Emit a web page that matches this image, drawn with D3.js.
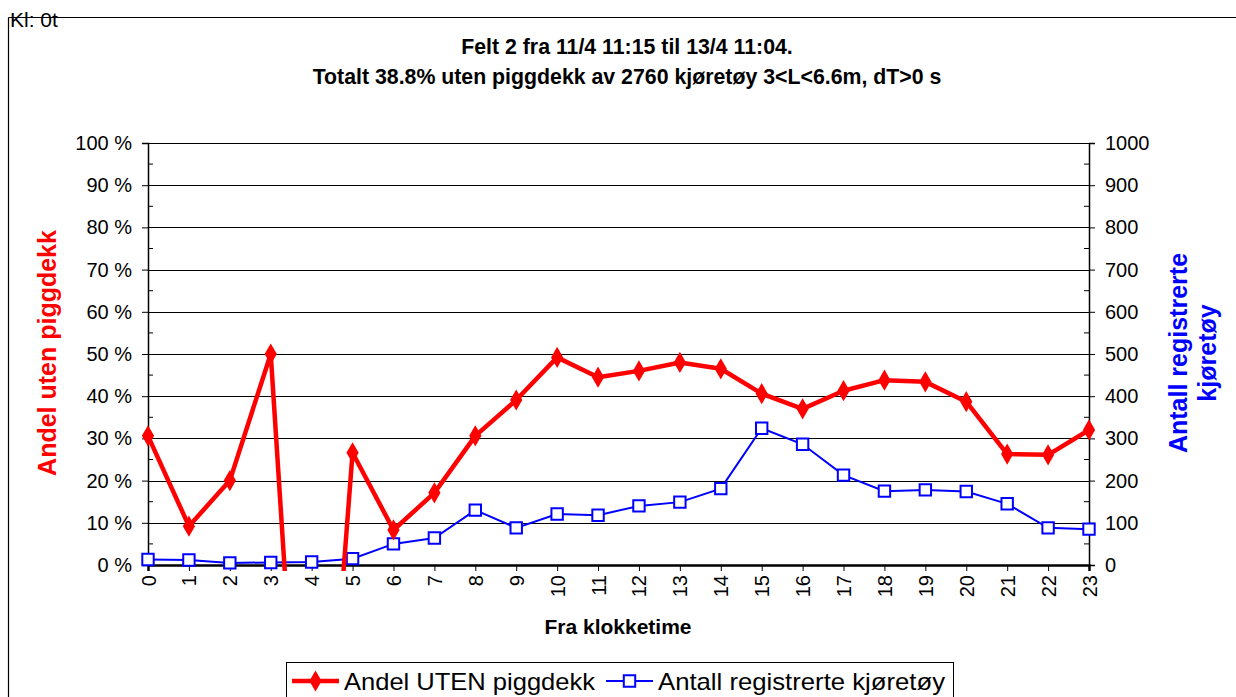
<!DOCTYPE html>
<html>
<head>
<meta charset="utf-8">
<script src="https://cdn.jsdelivr.net/npm/d3@7"></script>
<style>
  html, body { margin: 0; padding: 0; background: #fff; }
  text { font-family: "Liberation Sans", Arial, sans-serif; }
</style>
</head>
<body>
<svg id="chart" width="1236" height="697"></svg>
<script>
// ---- Data ----
const hours = [0,1,2,3,4,5,6,7,8,9,10,11,12,13,14,15,16,17,18,19,20,21,22,23];
// Share without studded tyres (fraction); hour 4 plotted far below the axis (clipped)
const andelUten = [0.306,0.092,0.200,0.500,-1.00,0.266,0.083,0.171,0.306,0.391,0.492,0.445,0.460,0.480,0.465,0.406,0.370,0.413,0.438,0.434,0.387,0.263,0.261,0.320];
// Number of registered vehicles
const antall = [13,12,5,6,7,15,50,64,130,88,121,118,140,149,181,324,286,213,175,178,174,145,88,85];
const leftTicks = [0,0.1,0.2,0.3,0.4,0.5,0.6,0.7,0.8,0.9,1.0];
const rightTicks = [0,100,200,300,400,500,600,700,800,900,1000];
const titleLines = ["Felt 2 fra 11/4 11:15 til 13/4 11:04.", "Totalt 38.8% uten piggdekk av 2760 kjøretøy 3<L<6.6m, dT>0 s"];
const seriesNames = ["Andel UTEN piggdekk", "Antall registrerte kjøretøy"];

// ---- Layout ----
const svg = d3.select("#chart");
const L = 148, R = 1089, T = 143, B = 565;
const x = d3.scaleLinear().domain([0, 23]).range([L, R]);
const yL = d3.scaleLinear().domain([0, 1]).range([B, T]);
const yR = d3.scaleLinear().domain([0, 1000]).range([B, T]);

svg.append("rect").attr("width", 1236).attr("height", 697).attr("fill", "#fff");

// outer frame (partially visible)
svg.append("line").attr("x1", 8.5).attr("x2", 1236).attr("y1", 17.5).attr("y2", 17.5).attr("stroke", "#000").attr("stroke-width", 1.2);
svg.append("line").attr("x1", 8.5).attr("x2", 8.5).attr("y1", 17.5).attr("y2", 697).attr("stroke", "#000").attr("stroke-width", 1.2);
svg.append("text").attr("x", 10).attr("y", 27).attr("font-size", 21).text("Kl: 0t");

// title
svg.append("g").selectAll("text").data(titleLines).join("text")
  .attr("x", 627).attr("y", (d, i) => 54 + i * 30)
  .attr("text-anchor", "middle").attr("font-size", 21.3).attr("font-weight", "bold")
  .text(d => d);

// gridlines
svg.append("g").selectAll("line").data(leftTicks.filter(d => d > 0)).join("line")
  .attr("x1", L).attr("x2", R).attr("y1", d => Math.round(yL(d)) + 0.5).attr("y2", d => Math.round(yL(d)) + 0.5)
  .attr("stroke", "#000").attr("stroke-width", 1);

// left axis
const leftAxis = d3.axisLeft(yL).tickValues(leftTicks).tickSize(6).tickPadding(10)
  .tickFormat(d => Math.round(d * 100) + " %");
const gl = svg.append("g").attr("transform", `translate(${L},0)`).call(leftAxis);
gl.attr("font-size", null).attr("font-family", null);
gl.selectAll("text").attr("font-size", 20).attr("fill", "#000");
gl.selectAll("line, path").attr("stroke", "#000");
gl.select(".domain").attr("stroke-width", 1.5);
// minor ticks inside
svg.append("g").selectAll("line").data(d3.range(0.05, 1, 0.1)).join("line")
  .attr("x1", L).attr("x2", L + 5).attr("y1", d => yL(d)).attr("y2", d => yL(d)).attr("stroke", "#000");

// right axis
const rightAxis = d3.axisRight(yR).tickValues(rightTicks).tickSize(6).tickPadding(10).tickFormat(d3.format("d"));
const gr = svg.append("g").attr("transform", `translate(${R},0)`).call(rightAxis);
gr.attr("font-size", null).attr("font-family", null);
gr.selectAll("text").attr("font-size", 20).attr("fill", "#000");
gr.selectAll("line, path").attr("stroke", "#000");
gr.select(".domain").attr("stroke-width", 1.5);
svg.append("g").selectAll("line").data(d3.range(50, 1000, 100)).join("line")
  .attr("x1", R - 5).attr("x2", R).attr("y1", d => yR(d)).attr("y2", d => yR(d)).attr("stroke", "#000");

// bottom axis
const bottomAxis = d3.axisBottom(x).tickValues(hours).tickSize(6).tickPadding(4).tickFormat(d3.format("d"));
const gb = svg.append("g").attr("transform", `translate(0,${B})`).call(bottomAxis);
gb.attr("font-size", null).attr("font-family", null);
gb.selectAll("line, path").attr("stroke", "#000");
gb.select(".domain").attr("stroke-width", 2.5);
gb.selectAll("text").attr("font-size", 20).attr("fill", "#000")
  .attr("transform", "rotate(-90)").attr("text-anchor", "end")
  .attr("x", -10).attr("y", 0).attr("dy", "0.35em");

// axis titles
svg.append("text").attr("transform", "translate(56,353) rotate(-90)")
  .attr("text-anchor", "middle").attr("font-size", 25).attr("font-weight", "bold").attr("fill", "#ff0000")
  .text("Andel uten piggdekk");
svg.append("text").attr("transform", "translate(1187,353) rotate(-90)")
  .attr("text-anchor", "middle").attr("font-size", 25).attr("font-weight", "bold").attr("fill", "#0000ff")
  .selectAll("tspan").data(["Antall registrerte", "kjøretøy"]).join("tspan")
  .attr("x", 0).attr("dy", (d, i) => i === 0 ? 0 : 29).text(d => d);
svg.append("text").attr("x", 618).attr("y", 634).attr("text-anchor", "middle")
  .attr("font-size", 21).attr("font-weight", "bold").text("Fra klokketime");

// clip
svg.append("clipPath").attr("id", "plotclip").append("rect")
  .attr("x", L - 10).attr("y", T - 10).attr("width", R - L + 20).attr("height", B - T + 16);

const diamond = d3.symbol().type(d3.symbolDiamond).size(130);
const square = d3.symbol().type(d3.symbolSquare).size(130);

// blue series
const plot = svg.append("g").attr("clip-path", "url(#plotclip)");
plot.append("path").datum(antall)
  .attr("d", d3.line().x((d, i) => x(hours[i])).y(d => yR(d)))
  .attr("fill", "none").attr("stroke", "#0000ff").attr("stroke-width", 2);
plot.append("g").selectAll("path").data(antall).join("path")
  .attr("transform", (d, i) => `translate(${x(hours[i])},${yR(d)})`)
  .attr("d", square).attr("fill", "#fff").attr("stroke", "#0000ff").attr("stroke-width", 2);

// red series
plot.append("path").datum(andelUten)
  .attr("d", d3.line().x((d, i) => x(hours[i])).y(d => yL(d)))
  .attr("fill", "none").attr("stroke", "#ff0000").attr("stroke-width", 4.5).attr("stroke-linejoin", "round");
plot.append("g").selectAll("path").data(andelUten).join("path")
  .attr("transform", (d, i) => `translate(${x(hours[i])},${yL(d)})`)
  .attr("d", diamond).attr("fill", "#ff0000");

// legend
const lg = svg.append("g");
lg.append("rect").attr("x", 286.5).attr("y", 662.5).attr("width", 667).attr("height", 60)
  .attr("fill", "#fff").attr("stroke", "#000").attr("stroke-width", 1);
lg.append("line").attr("x1", 292).attr("x2", 339).attr("y1", 681).attr("y2", 681).attr("stroke", "#ff0000").attr("stroke-width", 4.5);
lg.append("path").attr("transform", "translate(315.5,681)").attr("d", diamond).attr("fill", "#ff0000");
lg.append("text").attr("x", 344).attr("y", 690).attr("font-size", 24).attr("textLength", 251).attr("lengthAdjust", "spacingAndGlyphs").text(seriesNames[0]);
lg.append("line").attr("x1", 606).attr("x2", 653).attr("y1", 681).attr("y2", 681).attr("stroke", "#0000ff").attr("stroke-width", 2);
lg.append("path").attr("transform", "translate(629.5,681)").attr("d", square).attr("fill", "#fff").attr("stroke", "#0000ff").attr("stroke-width", 2);
lg.append("text").attr("x", 658).attr("y", 690).attr("font-size", 24).attr("textLength", 287).attr("lengthAdjust", "spacingAndGlyphs").text(seriesNames[1]);
</script>
</body>
</html>
